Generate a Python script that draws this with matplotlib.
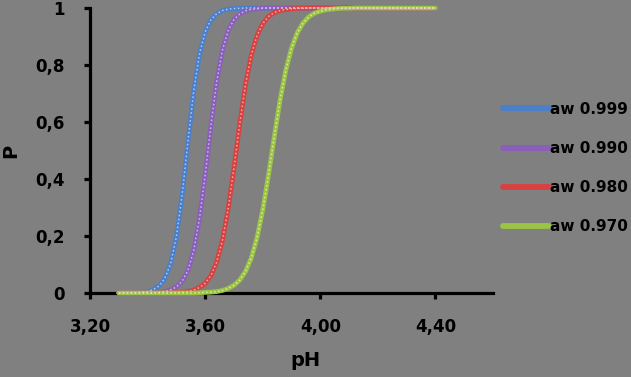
import matplotlib
matplotlib.use("Agg")
import matplotlib.pyplot as plt
from matplotlib.lines import Line2D

# ---------------- data ----------------
ph = [3.30, 3.32, 3.34, 3.36, 3.38, 3.40, 3.42, 3.44, 3.46, 3.48,
      3.50, 3.52, 3.54, 3.56, 3.58, 3.60, 3.62, 3.64, 3.66, 3.68,
      3.70, 3.72, 3.74, 3.76, 3.78, 3.80, 3.82, 3.84, 3.86, 3.88,
      3.90, 3.92, 3.94, 3.96, 3.98, 4.00, 4.02, 4.04, 4.06, 4.08,
      4.10, 4.12, 4.14, 4.16, 4.18, 4.20, 4.22, 4.24, 4.26, 4.28,
      4.30, 4.32, 4.34, 4.36, 4.38, 4.40]

p_aw0999 = [0.000, 0.000, 0.000, 0.001, 0.003, 0.005, 0.012, 0.025, 0.051, 0.103,
            0.197, 0.344, 0.529, 0.706, 0.837, 0.916, 0.959, 0.980, 0.991, 0.996,
            0.998, 0.999, 1.000, 1.000, 1.000, 1.000, 1.000, 1.000, 1.000, 1.000,
            1.000, 1.000, 1.000, 1.000, 1.000, 1.000, 1.000, 1.000, 1.000, 1.000,
            1.000, 1.000, 1.000, 1.000, 1.000, 1.000, 1.000, 1.000, 1.000, 1.000,
            1.000, 1.000, 1.000, 1.000, 1.000, 1.000]

p_aw0990 = [0.000, 0.000, 0.000, 0.000, 0.000, 0.000, 0.001, 0.003, 0.005, 0.011,
            0.021, 0.041, 0.079, 0.148, 0.259, 0.413, 0.587, 0.741, 0.852, 0.921,
            0.959, 0.979, 0.990, 0.995, 0.997, 0.999, 1.000, 1.000, 1.000, 1.000,
            1.000, 1.000, 1.000, 1.000, 1.000, 1.000, 1.000, 1.000, 1.000, 1.000,
            1.000, 1.000, 1.000, 1.000, 1.000, 1.000, 1.000, 1.000, 1.000, 1.000,
            1.000, 1.000, 1.000, 1.000, 1.000, 1.000]

p_aw0980 = [0.000, 0.000, 0.000, 0.000, 0.000, 0.000, 0.000, 0.000, 0.000, 0.001,
            0.002, 0.003, 0.005, 0.010, 0.019, 0.034, 0.061, 0.108, 0.184, 0.296,
            0.438, 0.592, 0.730, 0.834, 0.903, 0.945, 0.970, 0.984, 0.991, 0.995,
            0.997, 0.999, 0.999, 1.000, 1.000, 1.000, 1.000, 1.000, 1.000, 1.000,
            1.000, 1.000, 1.000, 1.000, 1.000, 1.000, 1.000, 1.000, 1.000, 1.000,
            1.000, 1.000, 1.000, 1.000, 1.000, 1.000]

p_aw0970 = [0.000, 0.000, 0.000, 0.000, 0.000, 0.000, 0.000, 0.000, 0.000, 0.000,
            0.000, 0.000, 0.000, 0.000, 0.001, 0.002, 0.003, 0.005, 0.009, 0.016,
            0.027, 0.045, 0.075, 0.122, 0.193, 0.291, 0.413, 0.547, 0.675, 0.781,
            0.859, 0.913, 0.947, 0.969, 0.982, 0.989, 0.994, 0.996, 0.998, 0.999,
            0.999, 1.000, 1.000, 1.000, 1.000, 1.000, 1.000, 1.000, 1.000, 1.000,
            1.000, 1.000, 1.000, 1.000, 1.000, 1.000]

series_labels = ["aw 0.999", "aw 0.990", "aw 0.980", "aw 0.970"]
series_values = [p_aw0999, p_aw0990, p_aw0980, p_aw0970]

x_ticks = [3.20, 3.60, 4.00, 4.40]
x_tick_labels = ["3,20", "3,60", "4,00", "4,40"]
y_ticks = [0, 0.2, 0.4, 0.6, 0.8, 1.0]
y_tick_labels = ["0", "0,2", "0,4", "0,6", "0,8", "1"]

# ---------------- style ----------------
colors = ["#4A7FCC", "#8A5EBB", "#D8413F", "#9CC444"]
dot_colors = ["#B9D3F2", "#D4C2EC", "#F2B5B3", "#DCEFB4"]
bg = "#808080"

fig = plt.figure(figsize=(6.31, 3.77), dpi=100, facecolor=bg)
ax = fig.add_axes([90 / 631, 1 - 293 / 377, (493 - 90) / 631, (293 - 8) / 377])
ax.set_facecolor(bg)

handles = []
for vals, c, dc, lab in zip(series_values, colors, dot_colors, series_labels):
    ax.plot(ph, vals, color=c, lw=3.4, solid_capstyle="round",
            solid_joinstyle="round", zorder=4, clip_on=False)
    ax.plot(ph, vals, color=dc, lw=1.1, linestyle=(0, (1.0, 1.6)),
            zorder=4.1, clip_on=False, alpha=0.9)
    handles.append(Line2D([0], [0], color=c, lw=4.2, solid_capstyle="round", label=lab))

ax.set_xlim(3.20, 4.60)
ax.set_ylim(0, 1)

for side in ["top", "right"]:
    ax.spines[side].set_visible(False)
for side in ["left", "bottom"]:
    ax.spines[side].set_linewidth(2.3)
    ax.spines[side].set_color("black")
    ax.spines[side].set_zorder(3)

ax.set_xticks(x_ticks)
ax.set_xticklabels(x_tick_labels)
ax.set_yticks(y_ticks)
ax.set_yticklabels(y_tick_labels)
ax.tick_params(axis="both", direction="out", length=4, width=2.3, color="black",
               labelsize=12, labelcolor="black", pad=14)
for lbl in ax.get_xticklabels() + ax.get_yticklabels():
    lbl.set_fontweight("bold")

ax.set_xlabel("pH", fontsize=14, fontweight="bold")
ax.xaxis.set_label_coords(0.535, -0.205)
ax.set_ylabel("P", fontsize=14, fontweight="bold")
ax.yaxis.set_label_coords(-0.172, 0.5)

leg = fig.legend(handles=handles, loc="center left",
                 bbox_to_anchor=(503 / 631, 1 - 168 / 377),
                 frameon=False, handlelength=3.0,
                 handletextpad=0.1, labelspacing=1.58, borderpad=0,
                 borderaxespad=0, prop={"weight": "bold", "size": 11})

fig.savefig("out.png", dpi=100, facecolor=bg)
